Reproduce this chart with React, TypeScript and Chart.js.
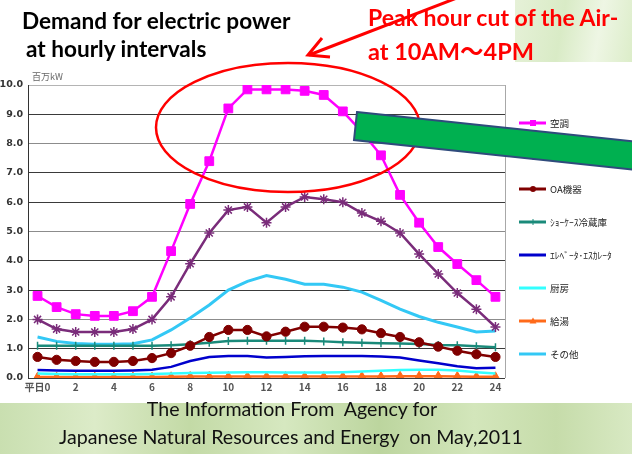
import React, { useEffect, useRef } from "react";
import { Chart, registerables } from "chart.js";

Chart.register(...registerables);

// ---- data ----
const hourLabels = [
  "平日0", "1", "2", "3", "4", "5", "6", "7", "8", "9", "10", "11", "12",
  "13", "14", "15", "16", "17", "18", "19", "20", "21", "22", "23", "24",
];
const seriesNames = ["空調", "照明", "OA機器", "ｼｮｰｹｰｽ冷蔵庫", "ｴﾚﾍﾞｰﾀ･ｴｽｶﾚｰﾀ", "厨房", "給湯", "その他"];

const airConditioning = [2.8, 2.42, 2.18, 2.12, 2.12, 2.28, 2.77, 4.33, 5.94, 7.4, 9.2, 9.85, 9.85, 9.85, 9.8, 9.66, 9.1, 8.4, 7.6, 6.25, 5.3, 4.47, 3.89, 3.34, 2.77];
const lighting = [2.0, 1.67, 1.57, 1.57, 1.57, 1.67, 2.0, 2.77, 3.9, 4.95, 5.73, 5.84, 5.3, 5.84, 6.18, 6.1, 6.0, 5.63, 5.35, 4.95, 4.23, 3.55, 2.9, 2.35, 1.74];
const oaEquipment = [0.72, 0.62, 0.58, 0.55, 0.55, 0.58, 0.68, 0.85, 1.1, 1.4, 1.64, 1.64, 1.42, 1.58, 1.75, 1.75, 1.72, 1.66, 1.53, 1.4, 1.22, 1.07, 0.93, 0.81, 0.72];
const showcaseFridge = [1.1, 1.1, 1.1, 1.1, 1.1, 1.1, 1.1, 1.12, 1.15, 1.2, 1.26, 1.27, 1.27, 1.27, 1.27, 1.25, 1.22, 1.2, 1.19, 1.18, 1.16, 1.13, 1.12, 1.08, 1.05];
const elevator = [0.27, 0.26, 0.25, 0.25, 0.25, 0.26, 0.28, 0.38, 0.58, 0.72, 0.75, 0.75, 0.7, 0.72, 0.74, 0.75, 0.75, 0.75, 0.73, 0.7, 0.6, 0.5, 0.4, 0.33, 0.35];
const kitchen = [0.15, 0.14, 0.13, 0.13, 0.13, 0.13, 0.14, 0.15, 0.17, 0.18, 0.19, 0.2, 0.2, 0.19, 0.19, 0.19, 0.2, 0.22, 0.25, 0.27, 0.28, 0.28, 0.26, 0.2, 0.15];
const hotWater = [0.03, 0.03, 0.03, 0.03, 0.03, 0.03, 0.03, 0.04, 0.05, 0.05, 0.05, 0.05, 0.05, 0.05, 0.05, 0.05, 0.05, 0.05, 0.05, 0.06, 0.06, 0.06, 0.05, 0.04, 0.04];
const other = [1.4, 1.25, 1.18, 1.15, 1.15, 1.17, 1.3, 1.64, 2.05, 2.49, 3.0, 3.3, 3.5, 3.37, 3.2, 3.2, 3.1, 2.93, 2.65, 2.35, 2.1, 1.9, 1.74, 1.57, 1.6];

const yMin = 0;
const yMax = 10;
const yStep = 1;

const colors = ["#FF00FF", "#7A2C7A", "#800000", "#1A8A7A", "#0000CC", "#33FFFF", "#FF6A1A", "#33C8F5"];

const frameBorder = {
  id: "frameBorder",
  beforeDatasetsDraw(chart: any) {
    const { ctx, chartArea } = chart;
    ctx.save();
    ctx.strokeStyle = "#a8a8a8";
    ctx.lineWidth = 1;
    ctx.beginPath();
    ctx.moveTo(Math.round(chartArea.right) + 0.5, chartArea.top);
    ctx.lineTo(Math.round(chartArea.right) + 0.5, chartArea.bottom);
    ctx.stroke();
    ctx.restore();
  },
};

export default function App() {
  const canvasRef = useRef<HTMLCanvasElement | null>(null);

  useEffect(() => {
    document.body.style.margin = "0";
    const canvas = canvasRef.current;
    if (!canvas) return;
    const seriesData = [airConditioning, lighting, oaEquipment, showcaseFridge, elevator, kitchen, hotWater, other];
    const pointStyles: any[] = ["rect", "star", "circle", "line", "circle", "circle", "triangle", "circle"];
    const pointRotations = [0, 0, 0, 90, 0, 0, 0, 0];
    const pointRadii = [6.2, 5, 4.6, 4, 0, 0, 5, 0];
    const widths = [2.5, 2.5, 2.5, 2.5, 2.5, 2.5, 2.5, 3];
    const chart = new Chart(canvas, {
      type: "line",
      data: {
        labels: hourLabels,
        datasets: seriesData.map((d, i) => ({
          label: seriesNames[i],
          data: d,
          borderColor: colors[i],
          backgroundColor: colors[i],
          borderWidth: widths[i],
          pointStyle: pointStyles[i],
          pointRotation: pointRotations[i],
          pointRadius: pointRadii[i],
          pointBorderWidth: i === 1 || i === 3 ? 1.5 : 1,
          pointBorderColor: colors[i],
          pointBackgroundColor: colors[i],
          tension: 0,
          fill: false,
        })),
      },
      options: {
        animation: false,
        responsive: false,
        maintainAspectRatio: false,
        layout: { padding: { left: 0, right: 127, top: 85, bottom: 56 } },
        plugins: { legend: { display: false }, tooltip: { enabled: false } },
        scales: {
          x: {
            type: "category",
            offset: true,
            grid: { display: false, drawTicks: false },
            border: { display: false },
            ticks: {
              autoSkip: false,
              maxRotation: 0,
              padding: 3,
              color: "#555",
              font: { family: "'Noto Sans CJK JP', sans-serif", size: 10, weight: "bold" },
              callback: (v: any, i: number) => (i % 2 === 0 ? hourLabels[i] : ""),
            },
            afterFit: (s: any) => {
              s.height = 20;
            },
          },
          y: {
            min: yMin,
            max: yMax,
            grid: {
              drawTicks: false,
              lineWidth: 1,
              color: (ctx: any) => {
                const v = ctx.tick ? ctx.tick.value : 0;
                if (v === 10) return "#b4b4b4";
                if (v === 8 || v === 5 || v === 2) return "#8c8c8c";
                return "#3a3a3a";
              },
            },
            border: { display: true, color: "#333", width: 1 },
            ticks: {
              stepSize: yStep,
              padding: 5,
              color: "#333",
              font: { family: "'DejaVu Sans', sans-serif", size: 9.5, weight: "bold" },
              callback: (v: any) => Number(v).toFixed(1),
            },
            afterFit: (s: any) => {
              s.width = 28;
            },
          },
        },
      },
      plugins: [frameBorder],
    });
    return () => chart.destroy();
  }, []);

  const legendY = [123, 156, 189, 222, 255, 288, 321, 354];

  const marker = (i: number, y: number) => {
    const cx = 533;
    const c = colors[i];
    if (i === 0) return <rect x={cx - 3} y={y - 3} width={6} height={6} fill={c} />;
    if (i === 1) return <path d={`M${cx - 3} ${y - 3}L${cx + 3} ${y + 3}M${cx - 3} ${y + 3}L${cx + 3} ${y - 3}M${cx} ${y - 4}L${cx} ${y + 4}`} stroke={c} strokeWidth={1} />;
    if (i === 2) return <circle cx={cx} cy={y} r={3} fill={c} />;
    if (i === 3) return <path d={`M${cx} ${y - 3}L${cx} ${y + 3}`} stroke={c} strokeWidth={1} />;
    if (i === 6) return <path d={`M${cx - 3.5} ${y + 2.5}L${cx + 3.5} ${y + 2.5}L${cx} ${y - 3.5}Z`} fill={c} />;
    return null;
  };

  return (
    <div style={{ position: "fixed", left: 0, top: 0, width: 632, height: 454, overflow: "hidden", background: "#ffffff" }}>
      {/* background patches */}
      <div style={{ position: "absolute", left: 515, top: 0, width: 117, height: 62, background: "linear-gradient(100deg, #e6f1d8 0%, #d9ebc6 40%, #eef6e4 70%, #dcedc9 100%)" }} />
      <div style={{ position: "absolute", left: 0, top: 403, width: 632, height: 51, background: "linear-gradient(90deg, #c9dfb0 0%, #dcebc8 15%, #c3daa6 30%, #d6e8c0 45%, #bcd59e 60%, #d3e6bb 75%, #c6dcaa 88%, #d8e9c3 100%)" }} />
      <canvas ref={canvasRef} width={632} height={454} style={{ position: "absolute", left: 0, top: 0, width: 632, height: 454 }} />
      <svg width={632} height={454} style={{ position: "absolute", left: 0, top: 0, pointerEvents: "none" }}>
        <text x={32} y={80} fontFamily="'Noto Sans CJK JP', sans-serif" fontSize={9} fill="#666">百万kW</text>
        {/* legend */}
        {seriesNames.map((n, i) => (
          <g key={n}>
            <line x1={519} x2={546} y1={legendY[i]} y2={legendY[i]} stroke={colors[i]} strokeWidth={3} />
            {marker(i, legendY[i])}
            <text x={550} y={legendY[i] + 3.5} fontFamily="'Noto Sans CJK JP', sans-serif" fontSize={9.5} fill="#222">{n}</text>
          </g>
        ))}
        {/* titles */}
        <text x={22} y={29} fontFamily="Lato, sans-serif" fontWeight="bold" fontSize={22.6} fill="#000">Demand for electric power</text>
        <text x={26} y={57} fontFamily="Lato, sans-serif" fontWeight="bold" fontSize={22.6} fill="#000">at hourly intervals</text>
        <text x={368} y={26} fontFamily="Lato, sans-serif" fontWeight="bold" fontSize={23} fill="#FF0000">Peak hour cut of the Air-</text>
        <text x={368} y={60} fontFamily="Lato, 'Noto Sans CJK JP', sans-serif" fontWeight="bold" fontSize={23.5} fill="#FF0000">at 10AM～4PM</text>
        {/* annotations */}
        <line x1={462} y1={-4} x2={309} y2={55} stroke="#FF0000" strokeWidth={3} />
        <polyline points="322,38 308,55 330,57" fill="none" stroke="#FF0000" strokeWidth={3} strokeLinejoin="miter" />
        <ellipse cx={288} cy={127.5} rx={132} ry={64.5} fill="none" stroke="#FF0000" strokeWidth={2.5} />
        <polygon points="357,112 640,142 637,170 354,140" fill="#00B050" stroke="#2F4B7C" strokeWidth={2} />
        {/* source */}
        <text x={292} y={416} textAnchor="middle" fontFamily="Lato, sans-serif" fontSize={19.6} fill="#111" style={{ whiteSpace: "pre" }}>{"The Information From  Agency for"}</text>
        <text x={291} y={444} textAnchor="middle" fontFamily="Lato, sans-serif" fontSize={19.6} fill="#111" style={{ whiteSpace: "pre" }}>{"Japanese Natural Resources and Energy  on May,2011"}</text>
      </svg>
    </div>
  );
}
